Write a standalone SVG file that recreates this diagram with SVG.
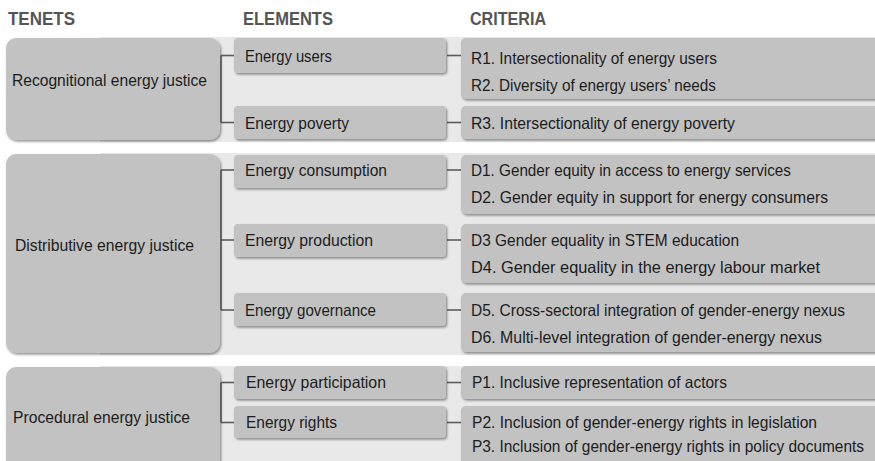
<svg xmlns="http://www.w3.org/2000/svg" width="875" height="461" viewBox="0 0 875 461">
  <defs>
    <filter id="shadow" x="-5%" y="-10%" width="115%" height="130%">
      <feDropShadow dx="1.2" dy="1.6" stdDeviation="0.9" flood-color="#3a3a3a" flood-opacity="0.55"/>
    </filter>
    <style>
      .panel { fill: #e9e9e9; }
      .box { fill: #c2c2c2; filter: url(#shadow); }
      .hdr { font-family: "Liberation Sans", Arial, sans-serif; font-weight: bold; font-size: 18px; fill: #555555; }
      .t { font-family: "Liberation Sans", Arial, sans-serif; font-size: 16.5px; fill: #1c1c1c; }
      .conn line { stroke: #5c5c5c; stroke-width: 1.6; }
    </style>
  </defs>

  <rect width="875" height="461" fill="#ffffff"/>

  <!-- headers -->
  <text class="hdr" x="8" y="24.5" textLength="67" lengthAdjust="spacingAndGlyphs">TENETS</text>
  <text class="hdr" x="243" y="24.5" textLength="90" lengthAdjust="spacingAndGlyphs">ELEMENTS</text>
  <text class="hdr" x="470" y="24.5" textLength="76" lengthAdjust="spacingAndGlyphs">CRITERIA</text>

  <!-- section backgrounds -->
  <rect class="panel" x="100" y="37" width="775" height="105"/>
  <rect class="panel" x="100" y="153" width="775" height="202"/>
  <rect class="panel" x="100" y="366" width="775" height="95"/>

  <!-- connectors -->
  <g id="connectors" class="conn">
    <line x1="221" y1="55.5" x2="221" y2="122.5"/>
    <line x1="221" y1="55.5" x2="235" y2="55.5"/>
    <line x1="221" y1="122.5" x2="235" y2="122.5"/>
    <line x1="447" y1="55.5" x2="462" y2="55.5"/>
    <line x1="447" y1="122.5" x2="462" y2="122.5"/>

    <line x1="221" y1="170" x2="221" y2="310"/>
    <line x1="221" y1="170" x2="235" y2="170"/>
    <line x1="221" y1="240" x2="235" y2="240"/>
    <line x1="221" y1="310" x2="235" y2="310"/>
    <line x1="447" y1="170" x2="462" y2="170"/>
    <line x1="447" y1="240" x2="462" y2="240"/>
    <line x1="447" y1="310" x2="462" y2="310"/>

    <line x1="221" y1="382.5" x2="221" y2="422.5"/>
    <line x1="221" y1="382.5" x2="235" y2="382.5"/>
    <line x1="221" y1="422.5" x2="235" y2="422.5"/>
    <line x1="447" y1="382.5" x2="462" y2="382.5"/>
    <line x1="447" y1="422.5" x2="462" y2="422.5"/>
  </g>

  <!-- recognitional -->
  <g id="tenet-recognitional">
    <rect class="box" x="6" y="38" width="214" height="102" rx="10"/>
    <text class="t" x="12" y="86" textLength="195" lengthAdjust="spacingAndGlyphs">Recognitional energy justice</text>
  </g>
  <g id="el-users">
    <rect class="box" x="234" y="38" width="212" height="35" rx="4"/>
    <text class="t" x="245" y="62" textLength="87" lengthAdjust="spacingAndGlyphs">Energy users</text>
  </g>
  <g id="el-poverty">
    <rect class="box" x="234" y="106" width="212" height="33" rx="4"/>
    <text class="t" x="245" y="129" textLength="104" lengthAdjust="spacingAndGlyphs">Energy poverty</text>
  </g>
  <g id="cr-r1r2">
    <rect class="box" x="461" y="38" width="430" height="61" rx="5"/>
    <text class="t" x="471" y="64" textLength="246" lengthAdjust="spacingAndGlyphs">R1. Intersectionality of energy users</text>
    <text class="t" x="471" y="91" textLength="245" lengthAdjust="spacingAndGlyphs">R2. Diversity of energy users’ needs</text>
  </g>
  <g id="cr-r3">
    <rect class="box" x="461" y="106" width="430" height="33" rx="5"/>
    <text class="t" x="471" y="129" textLength="264" lengthAdjust="spacingAndGlyphs">R3. Intersectionality of energy poverty</text>
  </g>

  <!-- distributive -->
  <g id="tenet-distributive">
    <rect class="box" x="6" y="154" width="214" height="199" rx="10"/>
    <text class="t" x="15" y="251" textLength="179" lengthAdjust="spacingAndGlyphs">Distributive energy justice</text>
  </g>
  <g id="el-consumption">
    <rect class="box" x="234" y="155" width="212" height="33" rx="4"/>
    <text class="t" x="245" y="176" textLength="142" lengthAdjust="spacingAndGlyphs">Energy consumption</text>
  </g>
  <g id="el-production">
    <rect class="box" x="234" y="224" width="212" height="33" rx="4"/>
    <text class="t" x="245" y="246" textLength="128" lengthAdjust="spacingAndGlyphs">Energy production</text>
  </g>
  <g id="el-governance">
    <rect class="box" x="234" y="293" width="212" height="33" rx="4"/>
    <text class="t" x="245" y="316" textLength="131" lengthAdjust="spacingAndGlyphs">Energy governance</text>
  </g>
  <g id="cr-d1d2">
    <rect class="box" x="461" y="155" width="430" height="59" rx="5"/>
    <text class="t" x="471" y="176" textLength="320" lengthAdjust="spacingAndGlyphs">D1. Gender equity in access to energy services</text>
    <text class="t" x="471" y="203" textLength="357" lengthAdjust="spacingAndGlyphs">D2. Gender equity in support for energy consumers</text>
  </g>
  <g id="cr-d3d4">
    <rect class="box" x="461" y="224" width="430" height="59" rx="5"/>
    <text class="t" x="471" y="246" textLength="268" lengthAdjust="spacingAndGlyphs">D3 Gender equality in STEM education</text>
    <text class="t" x="471" y="273" textLength="349" lengthAdjust="spacingAndGlyphs">D4. Gender equality in the energy labour market</text>
  </g>
  <g id="cr-d5d6">
    <rect class="box" x="461" y="293" width="430" height="59" rx="5"/>
    <text class="t" x="471" y="316" textLength="374" lengthAdjust="spacingAndGlyphs">D5. Cross-sectoral integration of gender-energy nexus</text>
    <text class="t" x="471" y="343" textLength="351" lengthAdjust="spacingAndGlyphs">D6. Multi-level integration of gender-energy nexus</text>
  </g>

  <!-- procedural -->
  <g id="tenet-procedural">
    <rect class="box" x="6" y="367" width="214" height="110" rx="10"/>
    <text class="t" x="13" y="423" textLength="177" lengthAdjust="spacingAndGlyphs">Procedural energy justice</text>
  </g>
  <g id="el-participation">
    <rect class="box" x="234" y="366" width="212" height="33" rx="4"/>
    <text class="t" x="246" y="388" textLength="140" lengthAdjust="spacingAndGlyphs">Energy participation</text>
  </g>
  <g id="el-rights">
    <rect class="box" x="234" y="406" width="212" height="32" rx="4"/>
    <text class="t" x="246" y="428" textLength="91" lengthAdjust="spacingAndGlyphs">Energy rights</text>
  </g>
  <g id="cr-p1">
    <rect class="box" x="461" y="366" width="430" height="33" rx="5"/>
    <text class="t" x="472" y="388" textLength="255" lengthAdjust="spacingAndGlyphs">P1. Inclusive representation of actors</text>
  </g>
  <g id="cr-p2p3">
    <rect class="box" x="461" y="406" width="430" height="70" rx="5"/>
    <text class="t" x="472" y="428" textLength="345" lengthAdjust="spacingAndGlyphs">P2. Inclusion of gender-energy rights in legislation</text>
    <text class="t" x="472" y="452" font-size="16" textLength="392" lengthAdjust="spacingAndGlyphs">P3. Inclusion of gender-energy rights in policy documents</text>
  </g>
</svg>
